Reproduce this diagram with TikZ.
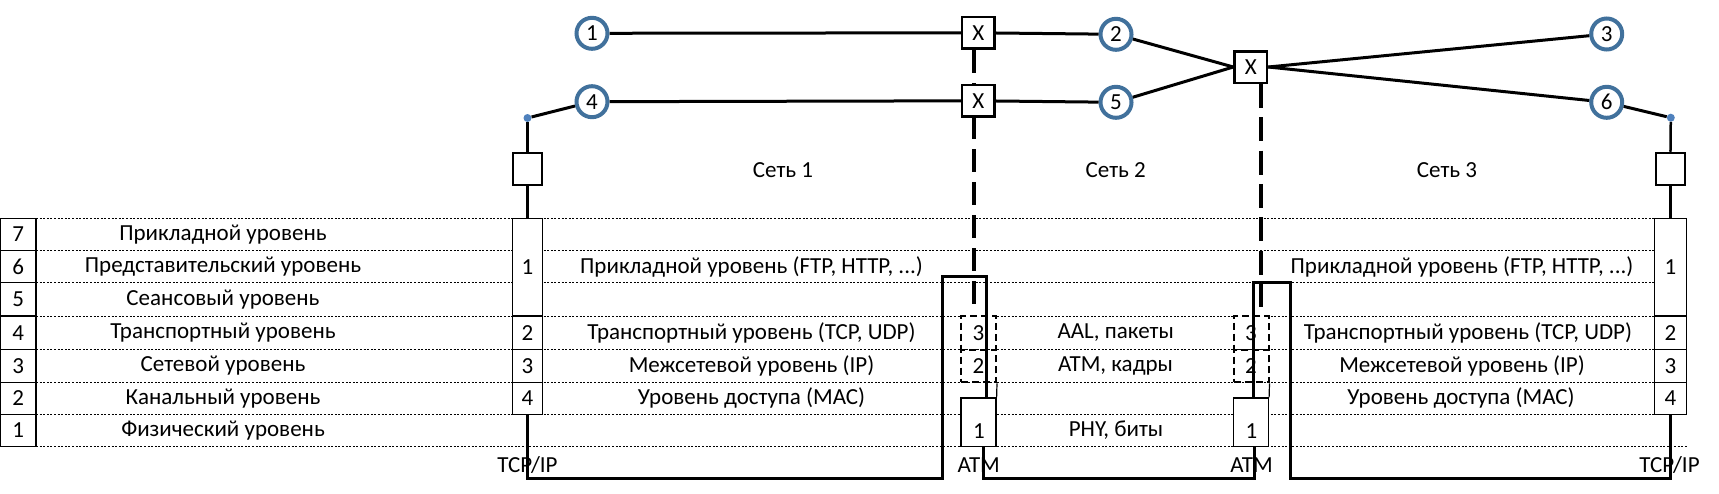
\documentclass[tikz,border=0pt]{standalone}
\usepackage{fontspec}
\setmainfont{Carlito}
\definecolor{ringblue}{HTML}{41719C}
\definecolor{dotblue}{HTML}{4F81BD}
\newcommand{\dfont}{\fontsize{23}{27}\selectfont}
\begin{document}
\begin{tikzpicture}[x=1pt,y=-1pt,
  lbl/.style={font=\dfont, inner sep=0pt},
  ring/.style={circle, draw=ringblue, line width=4pt, fill=white, minimum size=31pt, inner sep=0pt, font=\dfont},
  xbox/.style={draw, line width=2.5pt, fill=white, minimum width=32.5pt, minimum height=31.5pt, inner sep=0pt, font=\dfont},
  smallbox/.style={draw, line width=2.5pt, fill=white, minimum width=29pt, minimum height=32pt, inner sep=0pt},
  bluedot/.style={circle, fill=dotblue, minimum size=8pt, inner sep=0pt},
  stackbox/.style={draw, line width=1.2pt, fill=white, inner sep=0pt, font=\dfont},
  numcell/.style={draw, line width=1.2pt, minimum width=35.5pt, inner sep=0pt, font=\dfont},
  dashbox/.style={draw, line width=2pt, dash pattern=on 7pt off 4pt, fill=white, minimum width=35pt, inner sep=0pt, font=\dfont},
  dotline/.style={line width=1pt, dash pattern=on 2pt off 1.6pt},
  conn/.style={line width=3pt},
  longdash/.style={line width=3.5pt, dash pattern=on 23pt off 10pt},
  thickpath/.style={line width=3pt},
  slink/.style={line width=3.5pt}
]
\useasboundingbox (0,0) rectangle (1719,493);
% dotted row lines
\foreach \yy in {218.3,250.5,282.8,316,349.5,382.3,414.5,446.5}
  \draw[dotline] (36,\yy) -- (1687,\yy);
% number cells and layer names
\node[numcell, minimum height=32.2pt] (n7) at (18.25,234.4) {7};
\node[numcell, minimum height=32.3pt] (n6) at (18.25,266.65) {6};
\node[numcell, minimum height=33.2pt] (n5) at (18.25,299.4) {5};
\node[numcell, minimum height=33.5pt] (n4) at (18.25,332.75) {4};
\node[numcell, minimum height=32.8pt] (n3) at (18.25,365.9) {3};
\node[numcell, minimum height=32.2pt] (n2) at (18.25,398.4) {2};
\node[numcell, minimum height=32pt] (n1) at (18.25,430.5) {1};
\node[lbl] (l7) at (223,234.4) {Прикладной уровень};
\node[lbl] (l6) at (223,266.6) {Представительский уровень};
\node[lbl] (l5) at (223,299.4) {Сеансовый уровень};
\node[lbl] (l4) at (223,332.7) {Транспортный уровень};
\node[lbl] (l3) at (223,365.9) {Сетевой уровень};
\node[lbl] (l2) at (223,398.4) {Канальный уровень};
\node[lbl] (l1) at (223,430.5) {Физический уровень};
% column texts
\node[lbl] (ta1) at (751.5,266.6) {Прикладной уровень (FTP, HTTP, ...)};
\node[lbl] (tt1) at (751.5,332.7) {Транспортный уровень (TCP, UDP)};
\node[lbl] (ti1) at (751.5,365.9) {Межсетевой уровень (IP)};
\node[lbl] (tm1) at (751.5,398.4) {Уровень доступа (MAC)};
\node[lbl] (ta3) at (1462,266.6) {Прикладной уровень (FTP, HTTP, ...)};
\node[lbl] (tt3) at (1468,332.7) {Транспортный уровень (TCP, UDP)};
\node[lbl] (ti3) at (1462,365.9) {Межсетевой уровень (IP)};
\node[lbl] (tm3) at (1461,398.4) {Уровень доступа (MAC)};
\node[lbl] (aal) at (1115.7,332.7) {AAL, пакеты};
\node[lbl] (atmk) at (1115.5,365.9) {ATM, кадры};
\node[lbl] (phy) at (1116,430.5) {PHY, биты};
\node[lbl] (net1) at (783,170) {Сеть 1};
\node[lbl] (net2) at (1115.7,170) {Сеть 2};
\node[lbl] (net3) at (1447,170) {Сеть 3};
% long dashed verticals
\coordinate (v1t) at (974,50);
\coordinate (v1b) at (974,306.7);
\coordinate (v2t) at (1261,84);
\coordinate (v2b) at (1261,306.7);
\draw[longdash] (v1t) -- (v1b);
\draw[longdash, dash pattern=on 24pt off 9.3pt] (v2t) -- (v2b);
% stacks
\node[stackbox, minimum width=30pt, minimum height=97.7pt] (ls1) at (527.5,267.15) {1};
\node[stackbox, minimum width=30pt, minimum height=33.5pt] (ls2) at (527.5,332.75) {2};
\node[stackbox, minimum width=30pt, minimum height=32.8pt] (ls3) at (527.5,365.9) {3};
\node[stackbox, minimum width=30pt, minimum height=32.2pt] (ls4) at (527.5,398.4) {4};
\node[stackbox, minimum width=32pt, minimum height=97.7pt] (rs1) at (1670.5,267.15) {1};
\node[stackbox, minimum width=32pt, minimum height=33.5pt] (rs2) at (1670.5,332.75) {2};
\node[stackbox, minimum width=32pt, minimum height=32.8pt] (rs3) at (1670.5,365.9) {3};
\node[stackbox, minimum width=32pt, minimum height=32.2pt] (rs4) at (1670.5,398.4) {4};
% ATM stacks
\node[dashbox, minimum height=33.5pt] (a13) at (978.5,332.75) {3};
\node[dashbox, minimum height=32.8pt] (a12) at (978.5,365.9) {2};
\node[stackbox, minimum width=35pt, minimum height=48.5pt] (a11) at (978.5,422.25) {};
\node[lbl] (a11t) at (979,431.5) {1};
\draw[line width=1.2pt] (a12.south east) -- (a11.north east);
\node[dashbox, minimum height=33.5pt] (a23) at (1251,332.75) {3};
\node[dashbox, minimum height=32.8pt] (a22) at (1251,365.9) {2};
\node[stackbox, minimum width=35pt, minimum height=48.5pt] (a21) at (1251,422.25) {};
\node[lbl] (a21t) at (1251.5,431.5) {1};
\draw[line width=1.2pt] (a22.south east) -- (a21.north east);
% top network
\node[ring] (c1) at (592,33.3) {1};
\node[ring] (c2) at (1116,34.3) {2};
\node[ring] (c3) at (1606.7,34) {3};
\node[ring] (c4) at (592,101.7) {4};
\node[ring] (c5) at (1116,102.3) {5};
\node[ring] (c6) at (1606.7,102.3) {6};
\node[xbox] (x1) at (978.3,32.8) {X};
\node[xbox] (x2) at (978.3,100.8) {X};
\node[xbox] (x3) at (1250.8,67) {X};
\node[smallbox] (s1) at (527.5,169) {};
\node[smallbox] (s2) at (1670.3,169) {};
\node[bluedot] (d1) at (527.5,118) {};
\node[bluedot] (d2) at (1670.8,117.7) {};
\draw[conn] (c1) -- (x1);
\draw[conn] (x1) -- (c2);
\draw[conn] (c4) -- (x2);
\draw[conn] (x2) -- (c5);
\draw[conn] (c2) -- (x3.west);
\draw[conn] (c5) -- (x3.west);
\draw[conn] (x3.east) -- (c3);
\draw[conn] (x3.east) -- (c6);
\draw[conn] (d1) -- (c4);
\draw[conn] (c6) -- (d2);
\draw[line width=2.5pt] (d1) -- (s1);
\draw[line width=2.5pt] (d2) -- (s2);
\draw[slink] (s1) -- (ls1);
\draw[slink] (s2) -- (rs1.north -| s2);
% thick paths
\coordinate (pA1) at (942,478);
\coordinate (pA2) at (986,276);
\draw[thickpath] (ls4.south) |- (pA1) |- (pA2) -- (pA2 |- a11.north);
\coordinate (pB0) at (983,446.5);
\coordinate (pB1) at (1254.4,478);
\draw[thickpath] (pB0) |- (pB1) -- (pB1 |- a21.south);
\coordinate (pC0) at (1253.4,398);
\coordinate (pC1) at (1290.5,282.5);
\coordinate (pC2) at (1670.5,478);
\draw[thickpath] (pC0) |- (pC1) |- (pC2) -- (rs4.south);
% bottom labels
\node[lbl] (tcp1) at (527.5,465) {TCP/IP};
\node[lbl] (atm1) at (978.7,465) {ATM};
\node[lbl] (atm2) at (1251.6,465) {ATM};
\node[lbl] (tcp2) at (1669.5,465) {TCP/IP};
\end{tikzpicture}
\end{document}
